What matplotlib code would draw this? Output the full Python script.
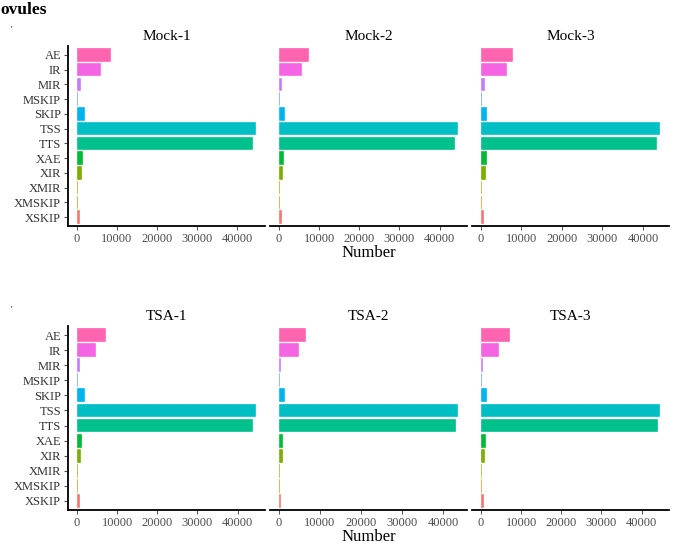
import matplotlib
matplotlib.use("Agg")
import matplotlib.pyplot as plt

categories = ["AE", "IR", "MIR", "MSKIP", "SKIP", "TSS", "TTS", "XAE", "XIR", "XMIR", "XMSKIP", "XSKIP"]
colors = ["#FF64B0", "#F564E3", "#C77CFF", "#619CFF", "#00B4F0", "#00BFC4",
          "#00C08B", "#00BA38", "#7CAE00", "#B79F00", "#DE8C00", "#F8766D"]

mock1 = [8460, 6050, 1000, 300, 2070, 44780, 44110, 1490, 1330, 300, 250, 830]
mock2 = [7600, 5680, 750, 200, 1590, 44600, 43900, 1340, 1090, 200, 200, 750]
mock3 = [7820, 6320, 1000, 300, 1580, 44240, 43580, 1580, 1330, 300, 150, 750]
tsa1 = [7300, 4640, 830, 250, 1900, 44600, 43870, 1240, 910, 250, 250, 830]
tsa2 = [6580, 5000, 600, 150, 1420, 43670, 43170, 1080, 920, 150, 150, 500]
tsa3 = [7150, 4570, 580, 250, 1580, 44600, 44100, 1250, 910, 250, 250, 750]

panel_titles = ["Mock-1", "Mock-2", "Mock-3", "TSA-1", "TSA-2", "TSA-3"]
panel_values = [mock1, mock2, mock3, tsa1, tsa2, tsa3]
xticks = [0, 10000, 20000, 30000, 40000]
xlabel = "Number"

W, H = 685, 551
fig = plt.figure(figsize=(W / 100, H / 100), dpi=100)
serif = "Liberation Serif"

col_x = [(68, 265), (270, 467), (472, 669)]
row_y = [(46, 226), (326, 510)]

n = len(categories)
ypos = [n - i for i in range(n)]

for idx, (title, vals) in enumerate(zip(panel_titles, panel_values)):
    r, c = divmod(idx, 3)
    x0, x1 = col_x[c]
    y0, y1 = row_y[r]
    ax = fig.add_axes([x0 / W, 1 - y1 / H, (x1 - x0) / W, (y1 - y0) / H])
    ax.barh(ypos, vals, height=0.92, color=colors, edgecolor="#FFFFFF", linewidth=0.25)
    m = max(vals)
    ax.set_xlim(-0.05 * m, 1.05 * m)
    ax.set_ylim(0.4, n + 0.6)
    ax.set_xticks(xticks)
    ax.set_xticklabels([str(t) for t in xticks], fontfamily=serif, fontsize=9, color="#4D4D4D")
    ax.tick_params(axis="x", length=3, width=0.6, color="#333333", pad=2)
    for s in ["top", "right"]:
        ax.spines[s].set_visible(False)
    ax.spines["bottom"].set_linewidth(1.3)
    ax.spines["bottom"].set_color("black")
    if c == 0:
        ax.set_yticks(ypos)
        ax.set_yticklabels(categories, fontfamily=serif, fontsize=9, color="#333333")
        ax.tick_params(axis="y", length=3, width=0.8, color="#555555", pad=2)
        ax.spines["left"].set_linewidth(1.3)
        ax.spines["left"].set_color("black")
    else:
        ax.set_yticks([])
        ax.spines["left"].set_visible(False)
    ax.set_title(title, fontfamily=serif, fontsize=11, pad=4)
    if c == 1:
        ax.set_xlabel(xlabel, fontfamily=serif, fontsize=12, labelpad=0)

fig.text(0 / W, 1 - 10 / H, "ovules", fontfamily=serif, fontweight="bold",
         fontsize=12.5, va="center", ha="left")
fig.text(11 / W, 1 - 30 / H, "'", fontfamily=serif, fontsize=6, va="center", ha="left")
fig.text(11 / W, 1 - 310 / H, "'", fontfamily=serif, fontsize=6, va="center", ha="left")

fig.savefig("out.png", dpi=100)
